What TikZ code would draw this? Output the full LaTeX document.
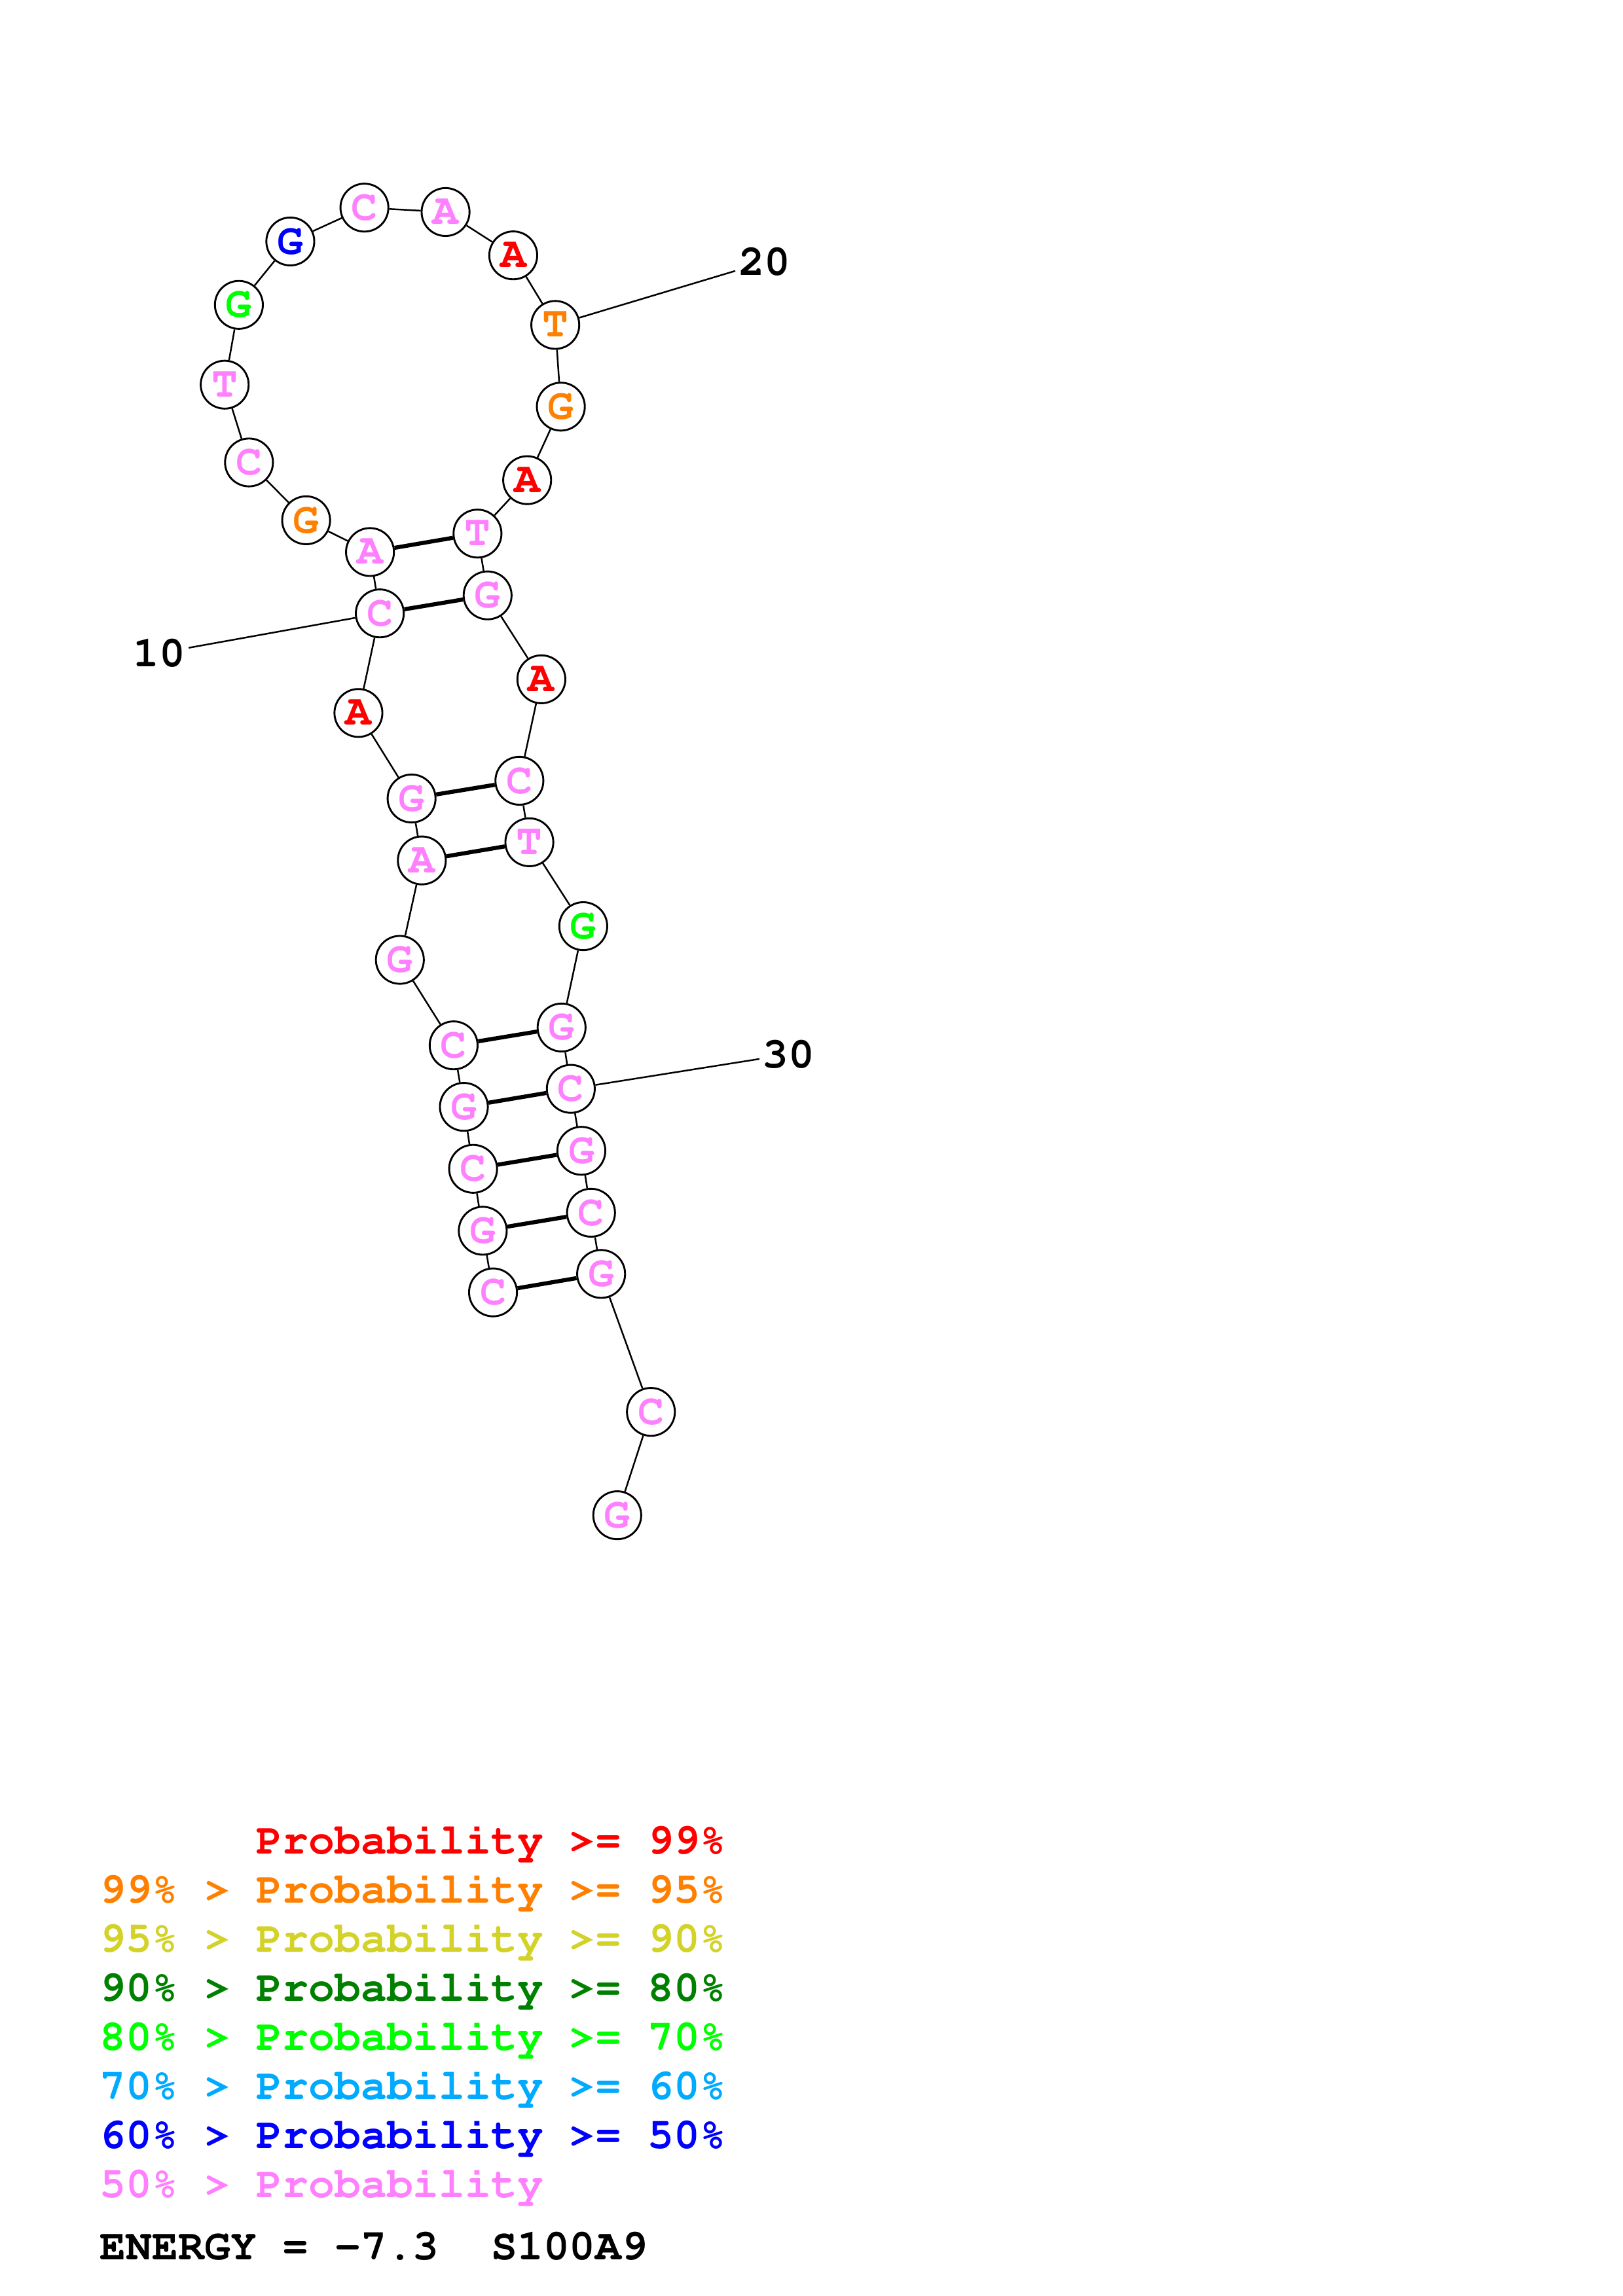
\documentclass[tikz,border=0pt]{standalone}
\usepackage[T1]{fontenc}
\usepackage{fontspec}
\setmainfont{Liberation Mono}
\usepackage{tikz}

\definecolor{pred}{RGB}{255,0,0}
\definecolor{porange}{RGB}{255,128,0}
\definecolor{pyellow}{RGB}{210,210,40}
\definecolor{pdkgreen}{RGB}{0,128,0}
\definecolor{pgreen}{RGB}{0,255,0}
\definecolor{psky}{RGB}{0,170,255}
\definecolor{pblue}{RGB}{0,0,255}
\definecolor{ppink}{RGB}{255,128,255}

\newcommand{\ntfont}{\fontencoding{T1}\fontfamily{pcr}\fontseries{b}\fontsize{16}{16}\selectfont}

\begin{document}
\begin{tikzpicture}[x=0.0189531cm, y=-0.0189531cm,
  nt/.style={circle, draw, line width=0.7pt, fill=white, minimum size=0.62cm,
    inner sep=0pt, font=\ntfont},
  pair/.style={line width=1.5pt},
  bb/.style={line width=0.6pt},
  num/.style={inner sep=1pt, font=\ntfont},
  legend/.style={anchor=base west, inner sep=0pt, font=\ntfont}]
  \useasboundingbox (0,0) rectangle (1108,1568);

  \node[nt, text=ppink] (C1) at (336.6, 882.6) {C};
  \node[nt, text=ppink] (G2) at (329.6, 840.5) {G};
  \node[nt, text=ppink] (C3) at (323.0, 798.2) {C};
  \node[nt, text=ppink] (G4) at (316.7, 755.9) {G};
  \node[nt, text=ppink] (C5) at (309.7, 713.9) {C};
  \node[nt, text=ppink] (G6) at (273.0, 655.5) {G};
  \node[nt, text=ppink] (A7) at (288.0, 587.6) {A};
  \node[nt, text=ppink] (G8) at (281.0, 545.3) {G};
  \node[nt, text=pred] (A9) at (244.7, 486.9) {A};
  \node[nt, text=ppink] (C10) at (259.3, 418.9) {C};
  \node[nt, text=ppink] (A11) at (252.6, 377.0) {A};
  \node[nt, text=porange] (G12) at (209.0, 355.3) {G};
  \node[nt, text=ppink] (C13) at (170.0, 315.8) {C};
  \node[nt, text=ppink] (T14) at (153.4, 262.7) {T};
  \node[nt, text=pgreen] (G15) at (163.1, 208.2) {G};
  \node[nt, text=pblue] (G16) at (198.2, 164.9) {G};
  \node[nt, text=ppink] (C17) at (248.8, 141.8) {C};
  \node[nt, text=ppink] (A18) at (304.2, 144.8) {A};
  \node[nt, text=pred] (A19) at (350.4, 174.4) {A};
  \node[nt, text=porange] (T20) at (379.1, 221.9) {T};
  \node[nt, text=porange] (G21) at (382.9, 277.7) {G};
  \node[nt, text=pred] (A22) at (359.9, 327.9) {A};
  \node[nt, text=ppink] (T23) at (326.0, 364.4) {T};
  \node[nt, text=ppink] (G24) at (332.9, 406.6) {G};
  \node[nt, text=pred] (A25) at (369.6, 463.9) {A};
  \node[nt, text=ppink] (C26) at (354.6, 533.2) {C};
  \node[nt, text=ppink] (T27) at (361.4, 575.2) {T};
  \node[nt, text=pgreen] (G28) at (398.2, 632.5) {G};
  \node[nt, text=ppink] (G29) at (383.4, 701.7) {G};
  \node[nt, text=ppink] (C30) at (389.7, 743.6) {C};
  \node[nt, text=ppink] (G31) at (396.9, 785.9) {G};
  \node[nt, text=ppink] (C32) at (403.5, 828.2) {C};
  \node[nt, text=ppink] (G33) at (410.4, 870.0) {G};
  \node[nt, text=ppink] (C34) at (444.4, 964.2) {C};
  \node[nt, text=ppink] (G35) at (421.4, 1034.8) {G};

  \draw[bb] (C1) to (G2);
  \draw[bb] (G2) to (C3);
  \draw[bb] (C3) to (G4);
  \draw[bb] (G4) to (C5);
  \draw[bb] (C5) to (G6);
  \draw[bb] (G6) to (A7);
  \draw[bb] (A7) to (G8);
  \draw[bb] (G8) to (A9);
  \draw[bb] (A9) to (C10);
  \draw[bb] (C10) to (A11);
  \draw[bb] (A11) to (G12);
  \draw[bb] (G12) to (C13);
  \draw[bb] (C13) to (T14);
  \draw[bb] (T14) to (G15);
  \draw[bb] (G15) to (G16);
  \draw[bb] (G16) to (C17);
  \draw[bb] (C17) to (A18);
  \draw[bb] (A18) to (A19);
  \draw[bb] (A19) to (T20);
  \draw[bb] (T20) to (G21);
  \draw[bb] (G21) to (A22);
  \draw[bb] (A22) to (T23);
  \draw[bb] (T23) to (G24);
  \draw[bb] (G24) to (A25);
  \draw[bb] (A25) to (C26);
  \draw[bb] (C26) to (T27);
  \draw[bb] (T27) to (G28);
  \draw[bb] (G28) to (G29);
  \draw[bb] (G29) to (C30);
  \draw[bb] (C30) to (G31);
  \draw[bb] (G31) to (C32);
  \draw[bb] (C32) to (G33);
  \draw[bb] (G33) to (C34);
  \draw[bb] (C34) to (G35);

  \draw[pair] (C1) to (G33);
  \draw[pair] (G2) to (C32);
  \draw[pair] (C3) to (G31);
  \draw[pair] (G4) to (C30);
  \draw[pair] (C5) to (G29);
  \draw[pair] (A7) to (T27);
  \draw[pair] (G8) to (C26);
  \draw[pair] (C10) to (G24);
  \draw[pair] (A11) to (T23);

  \node[num] (n10) at (108.8, 446) {10};
  \node[num] (n20) at (522.0, 179) {20};
  \node[num] (n30) at (538.5, 720) {30};
  \draw[bb] (C10) to (n10);
  \draw[bb] (T20) to (n20);
  \draw[bb] (C30) to (n30);

  \node[legend, text=pred] (row1) at (68, 1266) {\phantom{99\% > }Probability >= 99\%};
  \node[legend, text=porange] (row2) at (68, 1299.5) {99\% > Probability >= 95\%};
  \node[legend, text=pyellow] (row3) at (68, 1333) {95\% > Probability >= 90\%};
  \node[legend, text=pdkgreen] (row4) at (68, 1366.5) {90\% > Probability >= 80\%};
  \node[legend, text=pgreen] (row5) at (68, 1400) {80\% > Probability >= 70\%};
  \node[legend, text=psky] (row6) at (68, 1433.5) {70\% > Probability >= 60\%};
  \node[legend, text=pblue] (row7) at (68, 1467) {60\% > Probability >= 50\%};
  \node[legend, text=ppink] (row8) at (68, 1500.5) {50\% > Probability};
  \node[legend] (energy) at (68, 1543) {ENERGY = -7.3\ \ S100A9};
\end{tikzpicture}
\end{document}
